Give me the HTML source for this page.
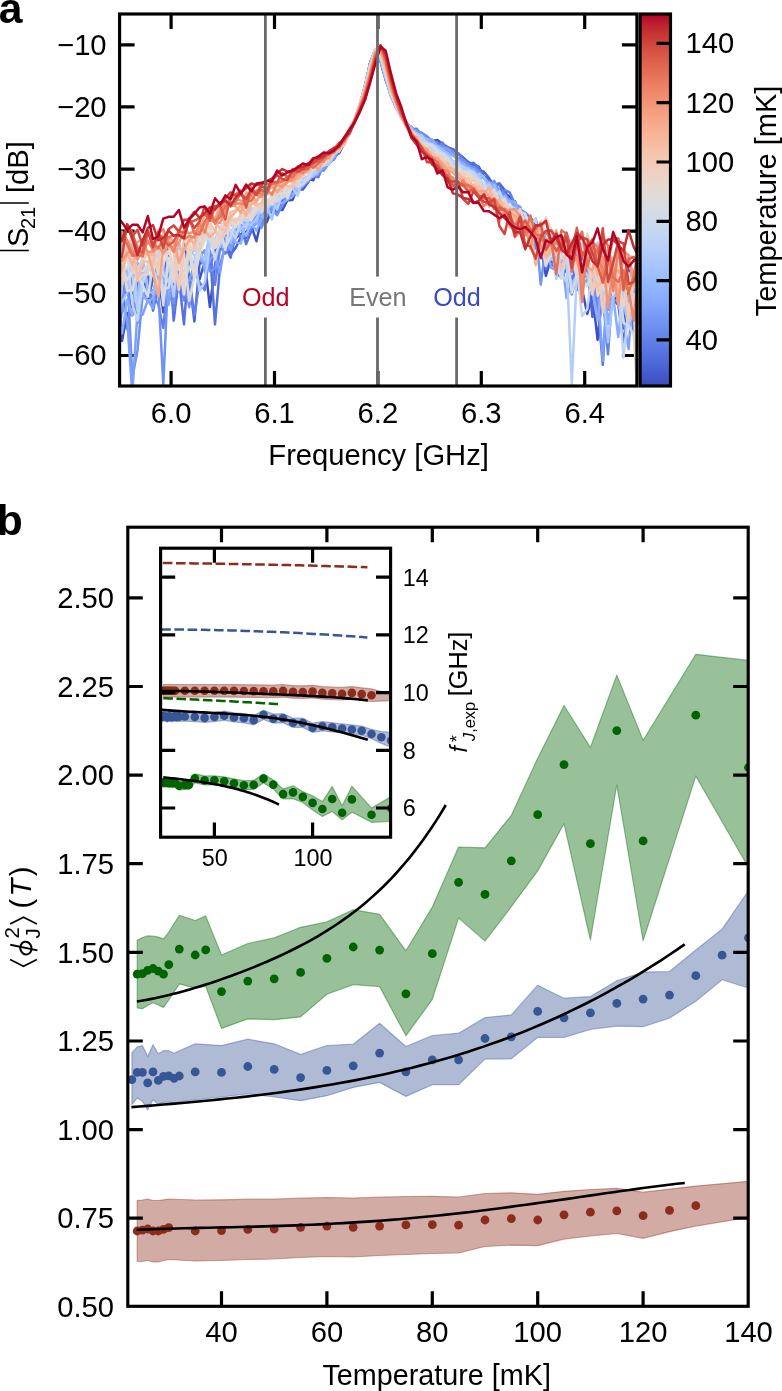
<!DOCTYPE html>
<html><head><meta charset="utf-8"><title>Figure</title>
<style>html,body{margin:0;padding:0;background:#fff;}svg{display:block;will-change:transform;}text{font-family:"Liberation Sans",sans-serif;}</style>
</head><body>
<svg width="782" height="1391" viewBox="0 0 782 1391">
<rect width="782" height="1391" fill="#fff"/>
<defs>
<clipPath id="ca"><rect x="119.6" y="14.0" width="517.3" height="372.0"/></clipPath>
<linearGradient id="cw" x1="0" y1="0" x2="0" y2="1"><stop offset="0.0000" stop-color="#b40426"/><stop offset="0.0312" stop-color="#be242e"/><stop offset="0.0625" stop-color="#ca3b37"/><stop offset="0.0938" stop-color="#d44e41"/><stop offset="0.1250" stop-color="#dd5f4b"/><stop offset="0.1562" stop-color="#e46e56"/><stop offset="0.1875" stop-color="#eb7d62"/><stop offset="0.2188" stop-color="#f08b6e"/><stop offset="0.2500" stop-color="#f4987a"/><stop offset="0.2812" stop-color="#f6a586"/><stop offset="0.3125" stop-color="#f7b093"/><stop offset="0.3438" stop-color="#f7ba9f"/><stop offset="0.3750" stop-color="#f5c4ac"/><stop offset="0.4062" stop-color="#f1ccb8"/><stop offset="0.4375" stop-color="#ecd3c5"/><stop offset="0.4688" stop-color="#e5d8d1"/><stop offset="0.5000" stop-color="#dddcdc"/><stop offset="0.5312" stop-color="#d5dbe5"/><stop offset="0.5625" stop-color="#ccd9ed"/><stop offset="0.5938" stop-color="#c3d5f4"/><stop offset="0.6250" stop-color="#b9d0f9"/><stop offset="0.6562" stop-color="#aec9fc"/><stop offset="0.6875" stop-color="#a3c2fe"/><stop offset="0.7188" stop-color="#98b9ff"/><stop offset="0.7500" stop-color="#8db0fe"/><stop offset="0.7812" stop-color="#82a6fb"/><stop offset="0.8125" stop-color="#779af7"/><stop offset="0.8438" stop-color="#6c8ff1"/><stop offset="0.8750" stop-color="#6282ea"/><stop offset="0.9062" stop-color="#5875e1"/><stop offset="0.9375" stop-color="#4e68d8"/><stop offset="0.9688" stop-color="#445acc"/><stop offset="1.0000" stop-color="#3b4cc0"/></linearGradient>
</defs>
<path d="M171.1,386.0v-15M171.1,14.0v15M274.5,386.0v-15M274.5,14.0v15M377.9,386.0v-15M377.9,14.0v15M481.3,386.0v-15M481.3,14.0v15M584.7,386.0v-15M584.7,14.0v15M119.6,44.8h15M636.9,44.8h-15M119.6,106.9h15M636.9,106.9h-15M119.6,169.1h15M636.9,169.1h-15M119.6,231.2h15M636.9,231.2h-15M119.6,293.4h15M636.9,293.4h-15M119.6,355.5h15M636.9,355.5h-15" stroke="#000" stroke-width="3.2" fill="none"/>
<g clip-path="url(#ca)" fill="none" stroke-width="2.5" stroke-linejoin="round">
<polyline points="116.8,285.8 122.0,341.1 127.2,313.2 132.3,315.2 137.5,294.7 142.7,271.5 147.8,300.5 153.0,277.0 158.2,272.7 163.3,312.3 168.5,247.3 173.7,313.0 178.9,280.3 184.0,242.7 189.2,280.2 194.4,275.0 199.5,279.4 204.7,262.0 209.9,307.0 215.0,265.3 220.2,235.3 225.4,243.6 230.6,248.5 235.7,238.2 240.9,234.1 246.1,232.0 251.2,225.5 256.4,241.2 261.6,218.2 266.7,222.3 271.9,209.1 277.1,208.9 282.3,210.1 287.4,200.2 292.6,199.9 297.8,186.7 302.9,185.7 308.1,178.6 313.3,180.3 318.4,167.5 323.6,168.3 328.8,159.5 334.0,155.6 339.1,153.1 344.3,142.2 349.5,133.7 354.6,120.7 359.8,104.5 365.0,86.7 370.1,62.9 375.3,50.7 380.5,61.2 385.7,79.0 390.8,94.5 396.0,107.3 401.2,115.6 406.3,122.6 411.5,129.6 416.7,132.4 421.8,133.3 427.0,138.3 432.2,140.9 437.4,140.1 442.5,143.9 447.7,147.4 452.9,149.4 458.0,153.5 463.2,157.7 468.4,162.1 473.5,164.8 478.7,166.6 483.9,176.4 489.1,180.0 494.2,185.1 499.4,194.8 504.6,193.7 509.7,196.3 514.9,210.7 520.1,207.2 525.2,223.6 530.4,217.8 535.6,223.9 540.8,246.5 545.9,276.0 551.1,257.9 556.3,273.8 561.4,277.0 566.6,269.1 571.8,252.3 576.9,280.4 582.1,289.2 587.3,314.0 592.5,294.7 597.6,339.9 602.8,290.1 608.0,323.6 613.1,297.1 618.3,299.9 623.5,328.5 628.6,269.2 633.8,306.2 639.0,311.6" stroke="#3d50c3"/>
<polyline points="116.8,364.3 122.0,305.8 127.2,269.3 132.3,307.5 137.5,288.1 142.7,262.0 147.8,301.7 153.0,278.3 158.2,263.0 163.3,282.4 168.5,302.9 173.7,281.5 178.9,271.5 184.0,249.6 189.2,277.2 194.4,321.5 199.5,264.2 204.7,259.8 209.9,267.7 215.0,249.8 220.2,249.0 225.4,234.3 230.6,254.9 235.7,247.7 240.9,237.1 246.1,237.9 251.2,219.7 256.4,221.0 261.6,221.7 266.7,208.1 271.9,210.1 277.1,203.2 282.3,200.0 287.4,199.8 292.6,195.1 297.8,189.6 302.9,189.6 308.1,182.2 313.3,173.7 318.4,170.7 323.6,169.7 328.8,157.1 334.0,159.5 339.1,149.5 344.3,141.5 349.5,131.0 354.6,121.9 359.8,105.5 365.0,87.1 370.1,62.8 375.3,50.1 380.5,61.0 385.7,78.8 390.8,93.9 396.0,106.3 401.2,115.4 406.3,124.4 411.5,127.0 416.7,133.0 421.8,133.0 427.0,136.7 432.2,140.8 437.4,144.0 442.5,145.1 447.7,147.3 452.9,151.2 458.0,154.1 463.2,157.9 468.4,162.8 473.5,166.8 478.7,170.1 483.9,171.7 489.1,178.0 494.2,186.9 499.4,183.6 504.6,189.9 509.7,201.7 514.9,201.2 520.1,216.0 525.2,223.9 530.4,231.5 535.6,218.7 540.8,239.3 545.9,243.4 551.1,248.2 556.3,259.8 561.4,253.7 566.6,255.3 571.8,243.5 576.9,290.1 582.1,254.9 587.3,266.2 592.5,317.0 597.6,273.1 602.8,265.2 608.0,276.7 613.1,299.5 618.3,305.2 623.5,343.6 628.6,303.4 633.8,311.2 639.0,324.8" stroke="#4961d2"/>
<polyline points="116.8,341.7 122.0,281.3 127.2,329.1 132.3,278.2 137.5,322.9 142.7,277.9 147.8,273.5 153.0,310.7 158.2,285.5 163.3,282.1 168.5,246.7 173.7,320.7 178.9,278.0 184.0,324.4 189.2,256.5 194.4,268.9 199.5,261.5 204.7,256.9 209.9,250.5 215.0,324.4 220.2,264.6 225.4,246.1 230.6,257.8 235.7,234.1 240.9,225.2 246.1,244.1 251.2,231.5 256.4,219.6 261.6,208.9 266.7,209.9 271.9,207.4 277.1,212.6 282.3,202.9 287.4,197.8 292.6,196.6 297.8,187.9 302.9,185.8 308.1,181.7 313.3,169.5 318.4,171.3 323.6,162.0 328.8,163.1 334.0,157.1 339.1,153.0 344.3,143.4 349.5,130.3 354.6,120.7 359.8,107.0 365.0,86.0 370.1,63.5 375.3,50.3 380.5,61.0 385.7,80.0 390.8,94.1 396.0,105.8 401.2,116.8 406.3,123.1 411.5,128.5 416.7,132.6 421.8,135.2 427.0,139.8 432.2,140.7 437.4,143.8 442.5,142.6 447.7,151.3 452.9,148.9 458.0,153.1 463.2,158.0 468.4,164.1 473.5,162.8 478.7,168.0 483.9,176.6 489.1,181.7 494.2,184.6 499.4,183.6 504.6,200.2 509.7,201.0 514.9,201.4 520.1,222.4 525.2,220.2 530.4,218.9 535.6,236.8 540.8,243.2 545.9,269.0 551.1,248.1 556.3,273.8 561.4,268.1 566.6,258.7 571.8,282.3 576.9,261.1 582.1,253.4 587.3,276.8 592.5,269.8 597.6,303.8 602.8,364.8 608.0,279.6 613.1,284.7 618.3,300.6 623.5,296.9 628.6,281.8 633.8,333.7 639.0,318.0" stroke="#5572df"/>
<polyline points="116.8,271.0 122.0,281.6 127.2,277.8 132.3,252.5 137.5,318.2 142.7,295.2 147.8,297.0 153.0,296.4 158.2,303.9 163.3,328.1 168.5,275.2 173.7,310.7 178.9,272.1 184.0,300.4 189.2,278.4 194.4,315.2 199.5,281.9 204.7,290.1 209.9,251.2 215.0,284.9 220.2,247.0 225.4,253.5 230.6,244.5 235.7,226.4 240.9,237.5 246.1,235.8 251.2,227.3 256.4,217.8 261.6,222.8 266.7,205.7 271.9,210.0 277.1,208.4 282.3,205.9 287.4,197.9 292.6,191.1 297.8,184.9 302.9,183.8 308.1,182.1 313.3,175.5 318.4,177.2 323.6,163.7 328.8,160.0 334.0,157.1 339.1,149.0 344.3,143.9 349.5,129.9 354.6,120.6 359.8,105.4 365.0,85.4 370.1,63.6 375.3,49.8 380.5,60.9 385.7,79.0 390.8,95.2 396.0,107.2 401.2,114.8 406.3,122.1 411.5,128.9 416.7,128.7 421.8,135.1 427.0,138.1 432.2,139.8 437.4,145.0 442.5,143.9 447.7,150.7 452.9,154.4 458.0,152.9 463.2,161.0 468.4,163.8 473.5,171.1 478.7,173.6 483.9,176.4 489.1,190.0 494.2,186.1 499.4,194.2 504.6,190.1 509.7,192.3 514.9,204.0 520.1,209.7 525.2,212.5 530.4,217.6 535.6,248.3 540.8,250.9 545.9,250.5 551.1,266.8 556.3,258.0 561.4,258.6 566.6,251.8 571.8,259.3 576.9,252.6 582.1,277.2 587.3,273.4 592.5,290.4 597.6,297.3 602.8,296.0 608.0,354.3 613.1,283.5 618.3,270.9 623.5,314.6 628.6,306.5 633.8,308.7 639.0,313.9" stroke="#6282ea"/>
<polyline points="116.8,280.1 122.0,311.4 127.2,269.4 132.3,377.6 137.5,350.4 142.7,295.0 147.8,289.5 153.0,290.5 158.2,289.0 163.3,384.2 168.5,269.3 173.7,303.2 178.9,269.1 184.0,276.5 189.2,307.2 194.4,265.1 199.5,256.7 204.7,250.4 209.9,271.3 215.0,268.8 220.2,237.0 225.4,243.7 230.6,244.6 235.7,228.1 240.9,226.0 246.1,227.0 251.2,227.7 256.4,213.4 261.6,227.7 266.7,215.7 271.9,209.1 277.1,215.2 282.3,205.1 287.4,194.2 292.6,193.9 297.8,193.3 302.9,179.0 308.1,179.7 313.3,175.4 318.4,166.2 323.6,170.7 328.8,163.5 334.0,159.1 339.1,148.1 344.3,143.8 349.5,129.3 354.6,120.1 359.8,105.0 365.0,86.2 370.1,63.5 375.3,50.2 380.5,60.7 385.7,78.7 390.8,95.9 396.0,107.0 401.2,117.6 406.3,124.5 411.5,129.3 416.7,130.9 421.8,133.0 427.0,136.4 432.2,142.2 437.4,146.1 442.5,146.0 447.7,148.3 452.9,151.7 458.0,158.2 463.2,159.9 468.4,165.6 473.5,166.7 478.7,171.2 483.9,177.6 489.1,184.1 494.2,180.9 499.4,191.5 504.6,193.8 509.7,200.2 514.9,204.3 520.1,206.8 525.2,222.7 530.4,230.8 535.6,228.1 540.8,284.6 545.9,243.7 551.1,256.7 556.3,244.5 561.4,251.7 566.6,266.5 571.8,294.6 576.9,274.7 582.1,279.8 587.3,273.4 592.5,279.6 597.6,317.1 602.8,270.6 608.0,309.7 613.1,281.3 618.3,299.3 623.5,276.9 628.6,307.2 633.8,272.6 639.0,330.8" stroke="#6f92f3"/>
<polyline points="116.8,296.6 122.0,303.9 127.2,319.9 132.3,394.5 137.5,311.0 142.7,314.6 147.8,300.2 153.0,308.4 158.2,260.1 163.3,263.7 168.5,304.9 173.7,272.0 178.9,274.9 184.0,280.0 189.2,280.5 194.4,264.8 199.5,242.6 204.7,271.9 209.9,259.4 215.0,254.9 220.2,272.3 225.4,239.7 230.6,250.2 235.7,234.1 240.9,229.6 246.1,215.2 251.2,227.4 256.4,224.0 261.6,213.4 266.7,202.5 271.9,207.8 277.1,203.0 282.3,198.2 287.4,194.5 292.6,193.8 297.8,191.1 302.9,185.7 308.1,180.6 313.3,173.9 318.4,172.9 323.6,168.1 328.8,161.6 334.0,156.8 339.1,150.0 344.3,144.1 349.5,129.6 354.6,120.5 359.8,105.3 365.0,87.2 370.1,63.5 375.3,49.4 380.5,60.0 385.7,78.4 390.8,95.2 396.0,105.1 401.2,116.3 406.3,124.8 411.5,129.2 416.7,131.9 421.8,136.6 427.0,139.4 432.2,142.5 437.4,146.1 442.5,148.0 447.7,149.0 452.9,154.1 458.0,159.1 463.2,164.2 468.4,166.3 473.5,172.4 478.7,177.9 483.9,177.6 489.1,182.7 494.2,184.8 499.4,191.8 504.6,200.8 509.7,199.6 514.9,207.4 520.1,207.4 525.2,229.1 530.4,229.9 535.6,234.0 540.8,228.2 545.9,240.0 551.1,267.8 556.3,270.3 561.4,253.2 566.6,298.1 571.8,282.6 576.9,276.1 582.1,288.4 587.3,279.3 592.5,273.4 597.6,286.0 602.8,361.3 608.0,270.7 613.1,279.5 618.3,302.0 623.5,319.7 628.6,349.1 633.8,278.3 639.0,312.4" stroke="#7da0f9"/>
<polyline points="116.8,314.9 122.0,333.3 127.2,299.6 132.3,315.5 137.5,262.4 142.7,295.1 147.8,301.4 153.0,298.5 158.2,276.0 163.3,280.8 168.5,261.5 173.7,266.8 178.9,252.9 184.0,295.3 189.2,254.4 194.4,265.1 199.5,256.9 204.7,266.0 209.9,245.4 215.0,239.9 220.2,240.6 225.4,248.0 230.6,230.0 235.7,242.4 240.9,243.5 246.1,218.9 251.2,223.4 256.4,230.6 261.6,219.1 266.7,211.2 271.9,202.4 277.1,203.0 282.3,203.0 287.4,199.6 292.6,196.3 297.8,186.8 302.9,185.1 308.1,176.2 313.3,175.9 318.4,166.7 323.6,165.9 328.8,160.9 334.0,156.1 339.1,149.9 344.3,139.1 349.5,132.7 354.6,120.5 359.8,105.1 365.0,86.3 370.1,64.2 375.3,49.1 380.5,59.8 385.7,78.1 390.8,94.6 396.0,106.6 401.2,117.7 406.3,123.3 411.5,127.3 416.7,133.8 421.8,136.2 427.0,139.3 432.2,139.4 437.4,146.2 442.5,148.9 447.7,153.3 452.9,155.4 458.0,159.9 463.2,164.0 468.4,167.8 473.5,169.1 478.7,176.9 483.9,177.4 489.1,185.0 494.2,184.8 499.4,199.2 504.6,204.5 509.7,201.2 514.9,201.8 520.1,217.9 525.2,231.4 530.4,219.0 535.6,230.3 540.8,248.3 545.9,232.4 551.1,234.1 556.3,262.5 561.4,262.7 566.6,253.7 571.8,255.0 576.9,252.0 582.1,267.7 587.3,248.6 592.5,292.2 597.6,320.9 602.8,282.4 608.0,323.7 613.1,296.0 618.3,337.1 623.5,286.9 628.6,279.0 633.8,271.6 639.0,301.8" stroke="#8badfd"/>
<polyline points="116.8,347.1 122.0,284.8 127.2,269.9 132.3,300.7 137.5,299.0 142.7,257.9 147.8,291.3 153.0,293.3 158.2,268.2 163.3,276.0 168.5,268.7 173.7,268.0 178.9,242.5 184.0,264.9 189.2,254.2 194.4,276.3 199.5,253.6 204.7,260.9 209.9,235.1 215.0,242.4 220.2,230.8 225.4,237.4 230.6,243.0 235.7,224.9 240.9,227.4 246.1,235.6 251.2,222.5 256.4,222.2 261.6,205.3 266.7,209.9 271.9,202.5 277.1,199.4 282.3,192.3 287.4,191.7 292.6,187.3 297.8,184.0 302.9,185.7 308.1,177.1 313.3,176.6 318.4,172.1 323.6,164.5 328.8,164.6 334.0,156.0 339.1,147.8 344.3,141.6 349.5,130.7 354.6,121.1 359.8,105.0 365.0,88.4 370.1,64.7 375.3,49.7 380.5,58.4 385.7,76.5 390.8,95.8 396.0,107.2 401.2,117.7 406.3,123.0 411.5,129.1 416.7,135.0 421.8,137.1 427.0,139.7 432.2,145.8 437.4,146.1 442.5,150.3 447.7,153.1 452.9,161.4 458.0,161.4 463.2,171.0 468.4,168.0 473.5,175.5 478.7,173.6 483.9,177.1 489.1,192.5 494.2,184.9 499.4,197.5 504.6,196.2 509.7,205.1 514.9,212.6 520.1,217.3 525.2,225.9 530.4,218.4 535.6,233.4 540.8,250.8 545.9,238.0 551.1,250.4 556.3,248.7 561.4,270.9 566.6,258.4 571.8,285.7 576.9,274.1 582.1,268.8 587.3,264.3 592.5,274.8 597.6,289.1 602.8,248.4 608.0,295.8 613.1,297.1 618.3,285.4 623.5,308.7 628.6,297.0 633.8,282.8 639.0,288.9" stroke="#9abbff"/>
<polyline points="116.8,307.7 122.0,302.0 127.2,292.5 132.3,243.4 137.5,303.1 142.7,274.4 147.8,266.2 153.0,271.1 158.2,295.2 163.3,240.4 168.5,269.8 173.7,279.1 178.9,275.9 184.0,261.9 189.2,256.4 194.4,249.2 199.5,253.1 204.7,259.6 209.9,232.4 215.0,244.3 220.2,246.7 225.4,230.3 230.6,222.0 235.7,233.4 240.9,228.9 246.1,224.1 251.2,225.0 256.4,218.6 261.6,208.2 266.7,205.1 271.9,219.5 277.1,194.4 282.3,191.0 287.4,197.6 292.6,183.6 297.8,189.7 302.9,176.3 308.1,178.5 313.3,171.3 318.4,167.9 323.6,163.0 328.8,163.2 334.0,152.2 339.1,147.8 344.3,140.9 349.5,129.7 354.6,119.8 359.8,103.3 365.0,86.2 370.1,63.9 375.3,49.6 380.5,58.2 385.7,77.6 390.8,93.9 396.0,107.1 401.2,117.6 406.3,123.7 411.5,130.5 416.7,133.3 421.8,140.4 427.0,143.4 432.2,145.0 437.4,153.2 442.5,154.6 447.7,156.0 452.9,163.8 458.0,161.8 463.2,169.2 468.4,168.4 473.5,176.9 478.7,174.3 483.9,189.5 489.1,183.0 494.2,198.4 499.4,191.0 504.6,202.1 509.7,218.7 514.9,207.8 520.1,221.1 525.2,224.7 530.4,230.0 535.6,228.7 540.8,244.3 545.9,240.0 551.1,259.5 556.3,260.6 561.4,252.1 566.6,246.1 571.8,264.4 576.9,269.1 582.1,267.4 587.3,263.1 592.5,293.8 597.6,242.6 602.8,288.4 608.0,342.4 613.1,297.8 618.3,285.7 623.5,302.1 628.6,325.3 633.8,310.0 639.0,287.5" stroke="#a7c5fe"/>
<polyline points="116.8,332.2 122.0,286.2 127.2,240.5 132.3,274.6 137.5,310.6 142.7,283.9 147.8,270.5 153.0,259.8 158.2,265.7 163.3,248.6 168.5,260.4 173.7,296.4 178.9,251.4 184.0,277.2 189.2,247.1 194.4,255.9 199.5,291.0 204.7,282.2 209.9,245.2 215.0,239.4 220.2,228.2 225.4,229.5 230.6,219.6 235.7,221.7 240.9,220.8 246.1,228.4 251.2,208.7 256.4,207.6 261.6,205.1 266.7,211.2 271.9,197.8 277.1,209.5 282.3,193.3 287.4,191.1 292.6,187.7 297.8,195.7 302.9,173.9 308.1,179.6 313.3,174.6 318.4,169.3 323.6,165.6 328.8,164.5 334.0,153.7 339.1,149.5 344.3,140.8 349.5,133.5 354.6,119.4 359.8,105.1 365.0,86.5 370.1,65.6 375.3,50.0 380.5,57.5 385.7,75.8 390.8,92.9 396.0,105.7 401.2,117.7 406.3,124.8 411.5,132.3 416.7,134.6 421.8,135.3 427.0,144.9 432.2,149.1 437.4,152.8 442.5,154.4 447.7,156.0 452.9,161.4 458.0,169.0 463.2,167.2 468.4,170.2 473.5,171.8 478.7,178.5 483.9,190.3 489.1,185.0 494.2,195.0 499.4,205.0 504.6,203.9 509.7,207.9 514.9,211.5 520.1,225.3 525.2,227.5 530.4,230.1 535.6,233.9 540.8,238.3 545.9,266.1 551.1,240.0 556.3,279.0 561.4,254.8 566.6,263.2 571.8,384.1 576.9,272.2 582.1,267.8 587.3,275.2 592.5,292.7 597.6,275.5 602.8,298.5 608.0,277.6 613.1,272.7 618.3,238.8 623.5,303.9 628.6,306.3 633.8,293.6 639.0,359.9" stroke="#b5cdfa"/>
<polyline points="116.8,283.7 122.0,261.8 127.2,251.3 132.3,303.9 137.5,320.8 142.7,284.0 147.8,262.9 153.0,276.0 158.2,250.0 163.3,274.2 168.5,282.0 173.7,264.1 178.9,284.0 184.0,282.1 189.2,267.1 194.4,266.6 199.5,233.3 204.7,237.3 209.9,241.1 215.0,244.0 220.2,226.8 225.4,222.2 230.6,231.3 235.7,238.0 240.9,219.8 246.1,220.8 251.2,219.1 256.4,212.9 261.6,203.7 266.7,207.2 271.9,202.9 277.1,201.1 282.3,197.9 287.4,194.2 292.6,184.4 297.8,182.2 302.9,180.8 308.1,176.5 313.3,170.4 318.4,165.8 323.6,163.4 328.8,159.0 334.0,153.4 339.1,150.2 344.3,143.4 349.5,128.4 354.6,119.0 359.8,104.0 365.0,88.2 370.1,65.8 375.3,49.0 380.5,56.2 385.7,75.0 390.8,92.5 396.0,105.8 401.2,117.7 406.3,126.5 411.5,133.2 416.7,136.9 421.8,138.5 427.0,144.5 432.2,144.0 437.4,148.9 442.5,153.1 447.7,160.5 452.9,162.3 458.0,163.4 463.2,171.4 468.4,170.3 473.5,173.3 478.7,179.0 483.9,190.1 489.1,187.7 494.2,198.9 499.4,191.6 504.6,206.4 509.7,210.9 514.9,212.6 520.1,222.0 525.2,217.1 530.4,226.3 535.6,218.8 540.8,258.2 545.9,243.2 551.1,242.9 556.3,252.5 561.4,274.5 566.6,281.6 571.8,248.8 576.9,268.4 582.1,316.0 587.3,308.9 592.5,268.4 597.6,274.0 602.8,290.6 608.0,276.3 613.1,282.7 618.3,289.1 623.5,357.7 628.6,309.0 633.8,278.4 639.0,295.8" stroke="#c1d4f4"/>
<polyline points="116.8,287.1 122.0,268.9 127.2,268.6 132.3,253.7 137.5,270.1 142.7,257.9 147.8,253.5 153.0,265.3 158.2,259.6 163.3,289.2 168.5,287.9 173.7,267.5 178.9,269.6 184.0,263.3 189.2,254.6 194.4,273.8 199.5,236.4 204.7,240.7 209.9,232.7 215.0,259.6 220.2,239.3 225.4,247.1 230.6,237.3 235.7,220.8 240.9,218.4 246.1,211.3 251.2,219.0 256.4,206.2 261.6,212.6 266.7,201.2 271.9,196.3 277.1,201.2 282.3,195.2 287.4,187.7 292.6,183.6 297.8,186.5 302.9,184.1 308.1,178.6 313.3,169.5 318.4,165.2 323.6,162.5 328.8,157.4 334.0,152.9 339.1,148.0 344.3,138.6 349.5,133.8 354.6,121.2 359.8,106.5 365.0,87.9 370.1,67.5 375.3,49.0 380.5,55.4 385.7,73.6 390.8,94.0 396.0,105.3 401.2,116.5 406.3,123.6 411.5,131.9 416.7,136.4 421.8,143.4 427.0,143.3 432.2,145.7 437.4,152.0 442.5,161.1 447.7,161.5 452.9,166.6 458.0,166.3 463.2,171.7 468.4,172.7 473.5,176.9 478.7,180.9 483.9,181.9 489.1,194.5 494.2,189.7 499.4,201.3 504.6,209.6 509.7,204.0 514.9,210.5 520.1,211.7 525.2,213.6 530.4,231.4 535.6,226.8 540.8,252.3 545.9,241.9 551.1,251.3 556.3,263.3 561.4,278.8 566.6,252.0 571.8,292.7 576.9,275.1 582.1,243.8 587.3,247.3 592.5,255.1 597.6,288.6 602.8,255.4 608.0,291.1 613.1,277.7 618.3,274.4 623.5,322.8 628.6,325.6 633.8,334.6 639.0,416.4" stroke="#cdd9ec"/>
<polyline points="116.8,278.7 122.0,267.0 127.2,280.0 132.3,271.8 137.5,275.0 142.7,284.7 147.8,296.7 153.0,265.6 158.2,259.0 163.3,305.4 168.5,258.0 173.7,277.5 178.9,252.0 184.0,253.8 189.2,301.0 194.4,277.3 199.5,246.7 204.7,240.2 209.9,238.1 215.0,244.7 220.2,229.5 225.4,250.0 230.6,218.1 235.7,219.3 240.9,222.6 246.1,210.9 251.2,220.4 256.4,206.9 261.6,203.1 266.7,203.2 271.9,196.8 277.1,197.6 282.3,184.7 287.4,198.3 292.6,185.3 297.8,179.7 302.9,174.5 308.1,168.9 313.3,170.1 318.4,168.0 323.6,162.1 328.8,159.6 334.0,153.7 339.1,149.2 344.3,143.4 349.5,129.3 354.6,120.9 359.8,105.0 365.0,87.9 370.1,67.5 375.3,49.4 380.5,55.4 385.7,73.6 390.8,92.0 396.0,104.4 401.2,117.2 406.3,126.5 411.5,131.3 416.7,136.1 421.8,143.7 427.0,144.0 432.2,146.3 437.4,151.9 442.5,155.2 447.7,158.1 452.9,167.0 458.0,167.0 463.2,174.2 468.4,175.0 473.5,179.2 478.7,184.7 483.9,192.4 489.1,195.7 494.2,204.2 499.4,205.6 504.6,209.5 509.7,204.5 514.9,211.5 520.1,216.6 525.2,232.2 530.4,237.3 535.6,237.4 540.8,229.9 545.9,264.6 551.1,255.8 556.3,246.2 561.4,258.7 566.6,245.4 571.8,254.9 576.9,277.9 582.1,280.4 587.3,286.3 592.5,269.2 597.6,262.1 602.8,287.8 608.0,295.1 613.1,267.7 618.3,281.6 623.5,258.2 628.6,280.0 633.8,314.6 639.0,275.4" stroke="#d8dce2"/>
<polyline points="116.8,286.0 122.0,260.4 127.2,290.8 132.3,289.9 137.5,270.1 142.7,271.2 147.8,264.3 153.0,266.8 158.2,287.3 163.3,263.5 168.5,251.1 173.7,264.0 178.9,263.9 184.0,294.3 189.2,242.6 194.4,278.9 199.5,253.6 204.7,240.6 209.9,223.5 215.0,248.0 220.2,226.9 225.4,226.1 230.6,222.1 235.7,227.1 240.9,212.8 246.1,218.1 251.2,214.7 256.4,209.7 261.6,203.0 266.7,205.0 271.9,198.2 277.1,195.5 282.3,192.9 287.4,193.4 292.6,184.3 297.8,179.5 302.9,176.8 308.1,170.5 313.3,170.0 318.4,163.5 323.6,161.5 328.8,157.6 334.0,151.2 339.1,148.2 344.3,141.6 349.5,129.9 354.6,119.4 359.8,106.8 365.0,89.5 370.1,68.2 375.3,49.8 380.5,54.1 385.7,71.9 390.8,91.8 396.0,103.9 401.2,118.5 406.3,124.5 411.5,131.4 416.7,137.6 421.8,144.7 427.0,147.1 432.2,153.6 437.4,152.9 442.5,163.1 447.7,162.8 452.9,169.2 458.0,176.7 463.2,173.8 468.4,172.3 473.5,177.1 478.7,187.0 483.9,188.6 489.1,191.0 494.2,191.3 499.4,201.5 504.6,198.8 509.7,211.9 514.9,213.5 520.1,220.1 525.2,225.4 530.4,225.5 535.6,234.8 540.8,221.0 545.9,265.8 551.1,228.3 556.3,237.7 561.4,247.3 566.6,239.7 571.8,240.1 576.9,269.0 582.1,289.3 587.3,233.4 592.5,255.0 597.6,263.5 602.8,236.6 608.0,274.5 613.1,294.6 618.3,262.4 623.5,279.8 628.6,275.8 633.8,304.5 639.0,283.0" stroke="#e3d9d3"/>
<polyline points="116.8,263.1 122.0,241.3 127.2,260.4 132.3,253.3 137.5,280.5 142.7,274.8 147.8,274.5 153.0,245.2 158.2,274.3 163.3,252.2 168.5,241.1 173.7,281.7 178.9,251.1 184.0,281.3 189.2,244.3 194.4,249.5 199.5,229.9 204.7,235.0 209.9,225.6 215.0,246.9 220.2,238.3 225.4,218.4 230.6,218.7 235.7,218.8 240.9,220.5 246.1,215.5 251.2,215.6 256.4,203.3 261.6,208.6 266.7,200.2 271.9,203.9 277.1,187.7 282.3,189.2 287.4,187.6 292.6,185.1 297.8,184.4 302.9,175.1 308.1,170.5 313.3,164.8 318.4,165.5 323.6,165.0 328.8,159.9 334.0,152.9 339.1,149.5 344.3,143.1 349.5,129.2 354.6,120.8 359.8,106.7 365.0,88.3 370.1,69.7 375.3,50.2 380.5,52.8 385.7,71.0 390.8,91.0 396.0,104.7 401.2,115.8 406.3,126.4 411.5,131.0 416.7,135.7 421.8,147.6 427.0,146.5 432.2,152.1 437.4,155.8 442.5,159.4 447.7,164.8 452.9,167.4 458.0,175.0 463.2,173.2 468.4,175.9 473.5,180.7 478.7,181.9 483.9,192.1 489.1,190.4 494.2,192.4 499.4,205.6 504.6,205.8 509.7,214.3 514.9,220.0 520.1,209.0 525.2,224.7 530.4,234.4 535.6,234.9 540.8,236.7 545.9,217.3 551.1,230.0 556.3,254.4 561.4,246.5 566.6,251.6 571.8,261.8 576.9,261.9 582.1,267.7 587.3,258.1 592.5,252.6 597.6,295.7 602.8,283.5 608.0,283.0 613.1,265.1 618.3,280.5 623.5,306.6 628.6,272.9 633.8,303.6 639.0,454.5" stroke="#ecd3c5"/>
<polyline points="116.8,271.7 122.0,283.9 127.2,241.6 132.3,270.5 137.5,267.5 142.7,261.9 147.8,252.1 153.0,257.2 158.2,267.5 163.3,232.5 168.5,243.4 173.7,252.9 178.9,290.1 184.0,247.9 189.2,250.1 194.4,248.9 199.5,250.4 204.7,226.8 209.9,223.0 215.0,231.0 220.2,237.4 225.4,233.8 230.6,219.9 235.7,222.5 240.9,214.8 246.1,205.0 251.2,202.9 256.4,204.7 261.6,208.5 266.7,194.5 271.9,192.7 277.1,195.1 282.3,186.9 287.4,181.7 292.6,175.1 297.8,177.2 302.9,172.2 308.1,172.1 313.3,166.4 318.4,163.9 323.6,158.6 328.8,159.6 334.0,152.4 339.1,151.4 344.3,141.9 349.5,131.8 354.6,121.0 359.8,106.7 365.0,90.0 370.1,69.8 375.3,50.7 380.5,52.0 385.7,69.6 390.8,89.0 396.0,103.9 401.2,113.1 406.3,124.0 411.5,132.9 416.7,142.3 421.8,144.6 427.0,149.1 432.2,152.1 437.4,156.3 442.5,157.1 447.7,168.8 452.9,170.1 458.0,171.8 463.2,173.5 468.4,184.9 473.5,178.9 478.7,189.5 483.9,193.4 489.1,193.6 494.2,195.2 499.4,201.4 504.6,204.2 509.7,211.8 514.9,211.5 520.1,223.5 525.2,224.5 530.4,226.7 535.6,232.5 540.8,231.4 545.9,249.3 551.1,252.6 556.3,234.4 561.4,248.9 566.6,247.9 571.8,248.4 576.9,244.9 582.1,269.3 587.3,245.2 592.5,294.7 597.6,259.2 602.8,312.7 608.0,277.6 613.1,286.7 618.3,267.6 623.5,273.7 628.6,320.7 633.8,279.9 639.0,300.1" stroke="#f2cab5"/>
<polyline points="116.8,257.4 122.0,248.2 127.2,252.2 132.3,234.1 137.5,280.4 142.7,261.9 147.8,261.3 153.0,264.7 158.2,229.8 163.3,250.4 168.5,244.7 173.7,241.6 178.9,263.9 184.0,241.2 189.2,234.5 194.4,247.3 199.5,220.9 204.7,225.3 209.9,219.2 215.0,221.6 220.2,228.8 225.4,231.1 230.6,212.2 235.7,210.3 240.9,205.7 246.1,216.0 251.2,193.4 256.4,205.5 261.6,202.9 266.7,191.3 271.9,195.4 277.1,184.2 282.3,183.8 287.4,186.2 292.6,187.1 297.8,176.7 302.9,171.9 308.1,173.2 313.3,165.5 318.4,163.6 323.6,161.0 328.8,155.5 334.0,152.0 339.1,145.8 344.3,145.3 349.5,132.8 354.6,119.3 359.8,106.1 365.0,89.6 370.1,70.8 375.3,50.9 380.5,50.9 385.7,68.6 390.8,89.0 396.0,102.5 401.2,115.4 406.3,126.2 411.5,130.8 416.7,140.5 421.8,144.2 427.0,152.0 432.2,153.1 437.4,159.0 442.5,166.2 447.7,162.3 452.9,172.2 458.0,175.4 463.2,177.8 468.4,178.5 473.5,188.3 478.7,186.1 483.9,191.4 489.1,207.0 494.2,200.8 499.4,219.9 504.6,211.4 509.7,223.6 514.9,222.6 520.1,222.6 525.2,230.4 530.4,225.6 535.6,233.2 540.8,225.6 545.9,254.4 551.1,246.7 556.3,251.2 561.4,268.9 566.6,250.8 571.8,244.6 576.9,249.2 582.1,252.2 587.3,258.9 592.5,274.0 597.6,287.1 602.8,280.3 608.0,284.6 613.1,274.8 618.3,270.7 623.5,274.5 628.6,261.9 633.8,272.9 639.0,292.7" stroke="#f6bfa6"/>
<polyline points="116.8,247.4 122.0,270.6 127.2,253.0 132.3,264.8 137.5,245.7 142.7,252.7 147.8,254.2 153.0,254.8 158.2,246.2 163.3,239.5 168.5,242.5 173.7,241.5 178.9,247.3 184.0,250.4 189.2,239.6 194.4,243.1 199.5,226.6 204.7,229.9 209.9,237.2 215.0,232.4 220.2,209.8 225.4,225.6 230.6,217.1 235.7,211.8 240.9,205.0 246.1,215.3 251.2,204.8 256.4,202.2 261.6,189.7 266.7,193.5 271.9,184.8 277.1,191.0 282.3,188.3 287.4,181.7 292.6,179.8 297.8,178.8 302.9,174.1 308.1,170.0 313.3,163.5 318.4,162.4 323.6,160.0 328.8,158.1 334.0,151.6 339.1,147.4 344.3,141.2 349.5,131.5 354.6,119.6 359.8,105.7 365.0,91.8 370.1,72.3 375.3,51.6 380.5,50.3 385.7,66.6 390.8,88.0 396.0,102.0 401.2,115.2 406.3,127.1 411.5,132.2 416.7,142.9 421.8,149.2 427.0,149.7 432.2,157.5 437.4,157.4 442.5,165.9 447.7,167.6 452.9,168.6 458.0,173.3 463.2,178.5 468.4,184.8 473.5,184.7 478.7,192.7 483.9,194.5 489.1,186.8 494.2,205.5 499.4,199.0 504.6,210.6 509.7,227.5 514.9,214.9 520.1,232.7 525.2,227.3 530.4,221.1 535.6,265.4 540.8,233.7 545.9,257.7 551.1,249.5 556.3,247.7 561.4,246.8 566.6,255.3 571.8,246.6 576.9,261.7 582.1,274.0 587.3,238.1 592.5,249.9 597.6,275.1 602.8,247.3 608.0,253.5 613.1,258.7 618.3,292.8 623.5,284.6 628.6,255.7 633.8,257.7 639.0,262.7" stroke="#f7b396"/>
<polyline points="116.8,242.3 122.0,245.3 127.2,241.1 132.3,247.8 137.5,242.0 142.7,239.6 147.8,253.0 153.0,271.2 158.2,296.3 163.3,246.8 168.5,238.3 173.7,240.5 178.9,262.7 184.0,249.4 189.2,240.2 194.4,236.4 199.5,230.6 204.7,214.7 209.9,209.5 215.0,219.8 220.2,204.0 225.4,202.7 230.6,204.4 235.7,206.5 240.9,212.9 246.1,192.4 251.2,194.7 256.4,201.3 261.6,193.2 266.7,191.9 271.9,186.7 277.1,192.0 282.3,185.4 287.4,180.8 292.6,181.6 297.8,175.1 302.9,172.1 308.1,170.1 313.3,163.7 318.4,170.1 323.6,159.7 328.8,157.5 334.0,147.1 339.1,146.1 344.3,141.7 349.5,130.2 354.6,120.2 359.8,106.6 365.0,92.2 370.1,72.8 375.3,52.8 380.5,49.0 385.7,65.0 390.8,86.3 396.0,102.7 401.2,114.9 406.3,123.9 411.5,135.6 416.7,136.8 421.8,148.9 427.0,148.5 432.2,157.7 437.4,158.2 442.5,162.9 447.7,170.5 452.9,172.6 458.0,177.5 463.2,181.7 468.4,185.2 473.5,187.9 478.7,191.4 483.9,190.9 489.1,195.8 494.2,203.4 499.4,221.7 504.6,208.3 509.7,212.3 514.9,215.7 520.1,222.2 525.2,230.9 530.4,235.2 535.6,232.1 540.8,228.8 545.9,244.2 551.1,241.5 556.3,230.3 561.4,251.3 566.6,236.4 571.8,252.3 576.9,252.2 582.1,251.6 587.3,267.5 592.5,270.4 597.6,248.0 602.8,262.7 608.0,250.0 613.1,270.5 618.3,270.6 623.5,279.1 628.6,257.2 633.8,285.6 639.0,285.2" stroke="#f6a586"/>
<polyline points="116.8,240.8 122.0,261.0 127.2,253.3 132.3,249.7 137.5,259.8 142.7,247.9 147.8,251.8 153.0,251.8 158.2,246.7 163.3,253.0 168.5,245.1 173.7,247.1 178.9,243.6 184.0,230.0 189.2,233.4 194.4,231.3 199.5,232.3 204.7,222.7 209.9,220.3 215.0,222.1 220.2,222.9 225.4,210.6 230.6,194.8 235.7,199.2 240.9,200.6 246.1,202.9 251.2,186.6 256.4,194.9 261.6,197.0 266.7,190.3 271.9,183.2 277.1,185.2 282.3,186.4 287.4,182.4 292.6,178.4 297.8,171.7 302.9,172.1 308.1,167.6 313.3,163.9 318.4,157.8 323.6,159.4 328.8,157.8 334.0,148.8 339.1,148.6 344.3,139.1 349.5,132.4 354.6,120.5 359.8,110.4 365.0,92.7 370.1,74.3 375.3,53.6 380.5,47.9 385.7,63.1 390.8,84.9 396.0,101.4 401.2,113.7 406.3,124.8 411.5,134.4 416.7,141.4 421.8,148.1 427.0,154.6 432.2,161.2 437.4,161.5 442.5,166.7 447.7,178.3 452.9,177.3 458.0,182.9 463.2,186.3 468.4,187.3 473.5,189.6 478.7,197.3 483.9,196.3 489.1,201.8 494.2,204.0 499.4,206.8 504.6,213.1 509.7,209.8 514.9,209.3 520.1,216.9 525.2,224.7 530.4,248.6 535.6,225.5 540.8,248.6 545.9,240.2 551.1,238.1 556.3,243.7 561.4,237.1 566.6,248.8 571.8,263.7 576.9,257.0 582.1,284.7 587.3,247.8 592.5,256.5 597.6,253.8 602.8,257.2 608.0,307.6 613.1,265.9 618.3,306.0 623.5,251.5 628.6,255.0 633.8,281.3 639.0,249.8" stroke="#f39475"/>
<polyline points="116.8,252.3 122.0,231.6 127.2,240.4 132.3,255.0 137.5,248.2 142.7,255.4 147.8,240.7 153.0,250.1 158.2,233.5 163.3,229.1 168.5,242.8 173.7,251.8 178.9,233.1 184.0,239.2 189.2,236.0 194.4,237.5 199.5,223.7 204.7,232.6 209.9,214.6 215.0,223.8 220.2,211.6 225.4,201.8 230.6,206.6 235.7,203.6 240.9,203.6 246.1,204.3 251.2,194.8 256.4,190.5 261.6,194.7 266.7,189.0 271.9,194.5 277.1,182.5 282.3,181.4 287.4,178.8 292.6,173.9 297.8,170.2 302.9,173.3 308.1,166.6 313.3,164.4 318.4,160.9 323.6,161.8 328.8,152.2 334.0,152.8 339.1,145.6 344.3,139.6 349.5,129.8 354.6,121.2 359.8,107.3 365.0,94.2 370.1,75.6 375.3,55.1 380.5,47.1 385.7,62.3 390.8,83.5 396.0,101.6 401.2,115.9 406.3,125.4 411.5,136.4 416.7,141.8 421.8,149.8 427.0,154.7 432.2,159.8 437.4,163.9 442.5,169.7 447.7,171.1 452.9,180.8 458.0,188.3 463.2,180.4 468.4,192.7 473.5,190.1 478.7,195.7 483.9,206.1 489.1,202.3 494.2,198.3 499.4,205.4 504.6,210.7 509.7,217.3 514.9,237.2 520.1,231.0 525.2,235.3 530.4,229.6 535.6,237.6 540.8,239.1 545.9,244.3 551.1,245.6 556.3,241.8 561.4,248.7 566.6,250.8 571.8,260.5 576.9,230.2 582.1,302.1 587.3,244.0 592.5,241.6 597.6,247.5 602.8,275.9 608.0,256.3 613.1,291.0 618.3,248.6 623.5,285.5 628.6,290.3 633.8,321.0 639.0,261.6" stroke="#ed8366"/>
<polyline points="116.8,233.7 122.0,238.0 127.2,244.5 132.3,255.7 137.5,254.9 142.7,256.4 147.8,231.9 153.0,243.7 158.2,248.2 163.3,240.9 168.5,237.3 173.7,235.5 178.9,234.9 184.0,238.4 189.2,217.9 194.4,233.8 199.5,234.6 204.7,221.6 209.9,213.8 215.0,221.1 220.2,217.3 225.4,206.1 230.6,202.6 235.7,201.9 240.9,192.8 246.1,200.4 251.2,201.1 256.4,192.6 261.6,184.1 266.7,183.9 271.9,183.5 277.1,182.9 282.3,181.2 287.4,177.0 292.6,177.3 297.8,170.4 302.9,168.1 308.1,163.1 313.3,167.8 318.4,163.7 323.6,156.0 328.8,154.6 334.0,151.2 339.1,146.3 344.3,140.9 349.5,131.0 354.6,121.8 359.8,109.9 365.0,94.6 370.1,77.5 375.3,55.8 380.5,45.8 385.7,59.7 390.8,81.6 396.0,99.5 401.2,112.1 406.3,122.4 411.5,134.0 416.7,143.8 421.8,147.5 427.0,154.0 432.2,157.3 437.4,162.3 442.5,173.6 447.7,179.2 452.9,185.2 458.0,181.9 463.2,184.2 468.4,185.3 473.5,188.7 478.7,195.6 483.9,198.4 489.1,198.0 494.2,203.2 499.4,210.4 504.6,209.3 509.7,216.1 514.9,225.8 520.1,217.0 525.2,232.4 530.4,215.5 535.6,235.2 540.8,234.8 545.9,231.5 551.1,240.6 556.3,274.0 561.4,230.2 566.6,233.9 571.8,271.8 576.9,242.2 582.1,231.5 587.3,266.6 592.5,246.0 597.6,252.4 602.8,236.2 608.0,245.7 613.1,277.3 618.3,281.9 623.5,270.4 628.6,292.8 633.8,275.8 639.0,244.6" stroke="#e57058"/>
<polyline points="116.8,220.0 122.0,241.6 127.2,224.4 132.3,232.4 137.5,249.1 142.7,252.7 147.8,231.0 153.0,245.3 158.2,233.7 163.3,238.7 168.5,245.5 173.7,241.6 178.9,231.0 184.0,233.0 189.2,222.3 194.4,220.7 199.5,218.1 204.7,213.6 209.9,220.7 215.0,206.6 220.2,206.1 225.4,219.6 230.6,195.8 235.7,194.6 240.9,190.5 246.1,207.7 251.2,187.9 256.4,194.4 261.6,189.6 266.7,193.5 271.9,181.5 277.1,182.3 282.3,173.2 287.4,177.1 292.6,172.6 297.8,166.4 302.9,169.3 308.1,168.9 313.3,161.3 318.4,161.7 323.6,158.2 328.8,152.9 334.0,149.3 339.1,142.9 344.3,140.2 349.5,131.9 354.6,120.4 359.8,109.9 365.0,96.2 370.1,78.5 375.3,57.9 380.5,45.8 385.7,57.9 390.8,80.9 396.0,96.5 401.2,113.2 406.3,123.2 411.5,134.0 416.7,140.6 421.8,150.3 427.0,153.9 432.2,160.9 437.4,170.2 442.5,170.9 447.7,175.7 452.9,186.5 458.0,183.4 463.2,185.2 468.4,191.4 473.5,188.5 478.7,195.7 483.9,197.9 489.1,198.3 494.2,209.0 499.4,207.6 504.6,210.0 509.7,216.8 514.9,230.0 520.1,227.0 525.2,220.5 530.4,229.9 535.6,228.7 540.8,223.4 545.9,250.1 551.1,241.2 556.3,251.0 561.4,243.8 566.6,232.6 571.8,251.8 576.9,227.7 582.1,256.5 587.3,245.6 592.5,239.4 597.6,266.0 602.8,282.6 608.0,262.0 613.1,238.1 618.3,238.4 623.5,290.0 628.6,259.2 633.8,256.8 639.0,272.0" stroke="#dc5d4a"/>
<polyline points="116.8,257.9 122.0,256.5 127.2,223.9 132.3,236.3 137.5,229.7 142.7,245.5 147.8,230.9 153.0,247.1 158.2,232.1 163.3,248.0 168.5,229.2 173.7,225.4 178.9,231.6 184.0,219.7 189.2,219.5 194.4,228.0 199.5,221.7 204.7,206.6 209.9,218.0 215.0,206.0 220.2,205.5 225.4,198.4 230.6,192.3 235.7,195.8 240.9,194.7 246.1,198.8 251.2,190.0 256.4,194.9 261.6,185.6 266.7,190.0 271.9,179.9 277.1,175.2 282.3,179.1 287.4,180.2 292.6,169.3 297.8,172.0 302.9,169.0 308.1,165.0 313.3,163.3 318.4,158.9 323.6,153.0 328.8,153.9 334.0,149.2 339.1,145.4 344.3,138.9 349.5,133.3 354.6,122.5 359.8,109.7 365.0,96.4 370.1,80.0 375.3,59.8 380.5,45.3 385.7,55.7 390.8,78.4 396.0,95.4 401.2,109.9 406.3,124.4 411.5,135.5 416.7,140.8 421.8,147.2 427.0,162.2 432.2,162.0 437.4,165.9 442.5,172.8 447.7,181.3 452.9,181.5 458.0,181.2 463.2,199.1 468.4,203.8 473.5,191.1 478.7,197.6 483.9,201.8 489.1,202.8 494.2,199.3 499.4,226.0 504.6,234.0 509.7,211.9 514.9,236.3 520.1,216.5 525.2,245.1 530.4,246.2 535.6,258.8 540.8,236.9 545.9,230.7 551.1,230.4 556.3,238.7 561.4,248.6 566.6,237.4 571.8,267.8 576.9,241.0 582.1,237.3 587.3,239.5 592.5,253.2 597.6,266.7 602.8,228.3 608.0,281.9 613.1,262.9 618.3,241.4 623.5,243.5 628.6,284.0 633.8,282.0 639.0,268.7" stroke="#d0473d"/>
<polyline points="116.8,237.6 122.0,240.4 127.2,225.3 132.3,238.7 137.5,255.3 142.7,240.2 147.8,227.9 153.0,225.2 158.2,240.3 163.3,238.1 168.5,230.6 173.7,235.6 178.9,235.1 184.0,238.3 189.2,219.1 194.4,211.8 199.5,217.8 204.7,213.3 209.9,207.3 215.0,209.7 220.2,202.5 225.4,200.5 230.6,205.5 235.7,197.6 240.9,192.7 246.1,188.1 251.2,183.5 256.4,185.2 261.6,183.5 266.7,181.3 271.9,178.6 277.1,173.4 282.3,169.0 287.4,171.7 292.6,170.8 297.8,168.3 302.9,166.6 308.1,164.5 313.3,157.9 318.4,158.5 323.6,156.4 328.8,151.1 334.0,148.2 339.1,146.8 344.3,138.0 349.5,132.4 354.6,122.5 359.8,111.9 365.0,99.2 370.1,81.2 375.3,62.2 380.5,45.8 385.7,53.5 390.8,75.7 396.0,95.5 401.2,109.9 406.3,123.6 411.5,138.0 416.7,144.7 421.8,151.5 427.0,155.7 432.2,164.5 437.4,168.9 442.5,175.2 447.7,178.6 452.9,193.4 458.0,194.6 463.2,198.1 468.4,199.1 473.5,202.9 478.7,200.8 483.9,194.2 489.1,204.5 494.2,206.8 499.4,213.0 504.6,218.1 509.7,223.1 514.9,232.6 520.1,232.1 525.2,249.2 530.4,236.7 535.6,225.3 540.8,225.4 545.9,220.8 551.1,241.6 556.3,233.6 561.4,249.7 566.6,253.9 571.8,243.4 576.9,233.2 582.1,238.2 587.3,248.3 592.5,261.2 597.6,266.5 602.8,245.2 608.0,239.5 613.1,239.6 618.3,244.9 623.5,251.3 628.6,230.3 633.8,247.1 639.0,257.4" stroke="#c32e31"/>
<polyline points="116.8,216.1 122.0,222.5 127.2,229.5 132.3,224.8 137.5,224.8 142.7,232.4 147.8,216.0 153.0,239.1 158.2,236.4 163.3,218.7 168.5,216.8 173.7,216.7 178.9,210.1 184.0,227.7 189.2,219.3 194.4,213.8 199.5,207.5 204.7,206.6 209.9,213.6 215.0,198.3 220.2,204.5 225.4,195.4 230.6,199.2 235.7,184.9 240.9,193.8 246.1,184.5 251.2,191.3 256.4,183.6 261.6,182.8 266.7,180.8 271.9,181.4 277.1,170.6 282.3,175.5 287.4,172.5 292.6,170.4 297.8,167.3 302.9,163.5 308.1,165.1 313.3,158.9 318.4,156.4 323.6,152.6 328.8,153.3 334.0,150.7 339.1,145.0 344.3,137.2 349.5,129.5 354.6,122.2 359.8,111.5 365.0,99.8 370.1,82.8 375.3,63.6 380.5,46.6 385.7,50.7 390.8,72.9 396.0,92.9 401.2,106.8 406.3,122.9 411.5,136.3 416.7,141.7 421.8,159.2 427.0,157.0 432.2,159.9 437.4,173.5 442.5,170.4 447.7,187.3 452.9,189.8 458.0,186.6 463.2,192.3 468.4,192.1 473.5,202.8 478.7,202.8 483.9,211.0 489.1,211.3 494.2,214.6 499.4,218.2 504.6,215.1 509.7,224.0 514.9,227.3 520.1,229.3 525.2,227.0 530.4,232.1 535.6,238.7 540.8,258.0 545.9,240.4 551.1,242.9 556.3,237.0 561.4,235.2 566.6,254.6 571.8,259.1 576.9,236.6 582.1,272.4 587.3,246.7 592.5,242.2 597.6,228.4 602.8,248.9 608.0,260.6 613.1,232.0 618.3,244.9 623.5,261.2 628.6,266.6 633.8,260.5 639.0,258.0" stroke="#b40426"/>
</g>
<line x1="265.4" y1="14.0" x2="265.4" y2="386.0" stroke="#6a6a6a" stroke-width="2.8"/>
<line x1="377.5" y1="14.0" x2="377.5" y2="386.0" stroke="#6a6a6a" stroke-width="2.8"/>
<line x1="456.6" y1="14.0" x2="456.6" y2="386.0" stroke="#6a6a6a" stroke-width="2.8"/>
<path d="M377.9,386.0v-15M377.9,14.0v15" stroke="#6a6a6a" stroke-width="3.2" fill="none"/>
<rect x="257.8" y="276.6" width="16" height="40.9" fill="#fff"/>
<rect x="369.9" y="276.6" width="16" height="40.9" fill="#fff"/>
<rect x="449.0" y="276.6" width="16" height="40.9" fill="#fff"/>
<rect x="119.6" y="14.0" width="517.3" height="372.0" fill="none" stroke="#000" stroke-width="3.15"/>
<rect x="640.1" y="14.0" width="30.399999999999977" height="372.0" fill="url(#cw)" stroke="#000" stroke-width="3.15"/>
<path d="M670.5,339.9h-14M670.5,280.6h-14M670.5,221.3h-14M670.5,162.0h-14M670.5,102.7h-14M670.5,43.4h-14" stroke="#000" stroke-width="3.2" fill="none"/>
<clipPath id="cb"><rect x="127.8" y="527.2" width="620.4000000000001" height="779.0999999999999"/></clipPath>
<g clip-path="url(#cb)">
<polygon points="137.2,1200.3 142.4,1200.0 147.7,1199.2 153.0,1200.5 158.3,1200.5 163.5,1199.8 168.8,1199.0 195.2,1200.0 221.5,1199.8 247.8,1199.2 274.2,1199.0 300.6,1198.2 326.9,1197.5 353.2,1198.0 379.6,1197.2 405.9,1196.5 432.3,1196.3 458.6,1197.0 485.0,1193.5 511.3,1192.8 537.7,1194.3 564.0,1191.3 590.4,1189.5 616.8,1188.3 643.1,1192.2 669.5,1189.1 695.8,1186.1 748.5,1181.3 748.5,1217.4 695.8,1226.1 669.5,1231.7 643.1,1238.3 616.8,1233.5 590.4,1236.0 564.0,1239.1 537.7,1245.7 511.3,1245.2 485.0,1246.5 458.6,1253.0 432.3,1253.5 405.9,1254.5 379.6,1255.5 353.2,1257.0 326.9,1256.5 300.6,1257.5 274.2,1259.0 247.8,1259.5 221.5,1260.5 195.2,1261.0 168.8,1259.5 163.5,1260.5 158.3,1262.0 153.0,1262.0 147.7,1260.5 142.4,1261.5 137.2,1261.3" fill="#8c2c1c" fill-opacity="0.4" stroke="#8c2c1c" stroke-opacity="0.4" stroke-width="1.2" stroke-linejoin="round"/>
<polygon points="131.9,1052.7 137.2,1046.9 142.4,1045.6 147.7,1056.6 153.0,1044.8 158.3,1053.8 163.5,1050.7 168.8,1050.7 174.1,1053.2 179.3,1050.7 195.2,1043.8 221.5,1045.6 247.8,1039.2 274.2,1043.8 300.6,1054.4 326.9,1045.5 353.2,1044.2 379.6,1023.2 405.9,1046.5 432.3,1035.5 458.6,1033.2 485.0,1017.6 511.3,1014.9 537.7,985.2 564.0,998.2 590.4,996.6 616.8,980.7 643.1,972.1 669.5,971.5 695.8,950.0 722.1,929.1 748.5,890.7 748.5,988.0 722.1,979.8 695.8,1001.2 669.5,1018.1 643.1,1026.7 616.8,1026.1 590.4,1029.5 564.0,1037.5 537.7,1037.4 511.3,1058.8 485.0,1059.1 458.6,1084.7 432.3,1084.7 405.9,1096.4 379.6,1082.4 353.2,1087.4 326.9,1095.7 300.6,1100.7 274.2,1097.0 247.8,1093.8 221.5,1097.0 195.2,1100.0 179.3,1101.8 174.1,1103.5 168.8,1102.0 163.5,1102.4 158.3,1104.4 153.0,1099.8 147.7,1110.0 142.4,1101.3 137.2,1098.0 131.9,1104.4" fill="#375696" fill-opacity="0.4" stroke="#375696" stroke-opacity="0.4" stroke-width="1.2" stroke-linejoin="round"/>
<polygon points="137.2,940.2 142.4,937.5 147.7,935.8 153.0,936.2 158.3,937.1 163.5,938.9 168.8,932.0 179.3,915.3 195.2,920.5 205.7,915.9 221.5,955.0 247.8,943.5 274.2,937.9 300.6,927.3 326.9,921.9 353.2,909.7 379.6,914.3 405.9,950.8 432.3,907.1 458.6,847.0 485.0,847.8 511.3,815.4 537.7,758.2 564.0,705.5 590.4,747.4 616.8,675.1 643.1,740.3 695.8,654.3 748.5,660.4 748.5,867.5 695.8,776.1 643.1,940.8 616.8,785.0 590.4,940.0 564.0,823.7 537.7,870.9 511.3,906.7 485.0,941.1 458.6,918.1 432.3,999.4 405.9,1035.8 379.6,986.6 353.2,984.6 326.9,994.3 300.6,1016.9 274.2,1019.7 247.8,1018.9 221.5,1028.4 205.7,986.4 195.2,988.2 179.3,983.9 168.8,1000.0 163.5,1007.4 158.3,1005.0 153.0,1002.8 147.7,1005.5 142.4,1008.7 137.2,1007.9" fill="#006400" fill-opacity="0.4" stroke="#006400" stroke-opacity="0.4" stroke-width="1.2" stroke-linejoin="round"/>
<g fill="#8c2c1c"><circle cx="137.2" cy="1231.0" r="4.4"/><circle cx="142.4" cy="1230.2" r="4.4"/><circle cx="147.7" cy="1229.0" r="4.4"/><circle cx="153.0" cy="1231.0" r="4.4"/><circle cx="158.3" cy="1231.0" r="4.4"/><circle cx="163.5" cy="1229.4" r="4.4"/><circle cx="168.8" cy="1227.7" r="4.4"/><circle cx="195.2" cy="1231.0" r="4.4"/><circle cx="221.5" cy="1230.6" r="4.4"/><circle cx="247.8" cy="1229.4" r="4.4"/><circle cx="274.2" cy="1229.0" r="4.4"/><circle cx="300.6" cy="1227.3" r="4.4"/><circle cx="326.9" cy="1226.1" r="4.4"/><circle cx="353.2" cy="1227.3" r="4.4"/><circle cx="379.6" cy="1226.1" r="4.4"/><circle cx="405.9" cy="1224.9" r="4.4"/><circle cx="432.3" cy="1224.6" r="4.4"/><circle cx="458.6" cy="1225.2" r="4.4"/><circle cx="485.0" cy="1220.0" r="4.4"/><circle cx="511.3" cy="1218.7" r="4.4"/><circle cx="537.7" cy="1220.0" r="4.4"/><circle cx="564.0" cy="1214.8" r="4.4"/><circle cx="590.4" cy="1212.2" r="4.4"/><circle cx="616.8" cy="1210.9" r="4.4"/><circle cx="643.1" cy="1215.7" r="4.4"/><circle cx="669.5" cy="1210.4" r="4.4"/><circle cx="695.8" cy="1205.7" r="4.4"/></g>
<g fill="#375696"><circle cx="131.9" cy="1079.6" r="4.4"/><circle cx="137.2" cy="1072.4" r="4.4"/><circle cx="142.4" cy="1072.4" r="4.4"/><circle cx="147.7" cy="1082.9" r="4.4"/><circle cx="153.0" cy="1071.9" r="4.4"/><circle cx="158.3" cy="1080.4" r="4.4"/><circle cx="163.5" cy="1076.3" r="4.4"/><circle cx="168.8" cy="1075.8" r="4.4"/><circle cx="174.1" cy="1078.3" r="4.4"/><circle cx="179.3" cy="1076.0" r="4.4"/><circle cx="195.2" cy="1071.9" r="4.4"/><circle cx="221.5" cy="1072.4" r="4.4"/><circle cx="247.8" cy="1066.5" r="4.4"/><circle cx="274.2" cy="1069.4" r="4.4"/><circle cx="300.6" cy="1077.6" r="4.4"/><circle cx="326.9" cy="1070.4" r="4.4"/><circle cx="353.2" cy="1065.8" r="4.4"/><circle cx="379.6" cy="1053.1" r="4.4"/><circle cx="405.9" cy="1071.8" r="4.4"/><circle cx="432.3" cy="1059.8" r="4.4"/><circle cx="458.6" cy="1059.8" r="4.4"/><circle cx="485.0" cy="1038.5" r="4.4"/><circle cx="511.3" cy="1036.8" r="4.4"/><circle cx="537.7" cy="1011.3" r="4.4"/><circle cx="564.0" cy="1017.8" r="4.4"/><circle cx="590.4" cy="1012.9" r="4.4"/><circle cx="616.8" cy="1003.4" r="4.4"/><circle cx="643.1" cy="999.1" r="4.4"/><circle cx="669.5" cy="995.1" r="4.4"/><circle cx="695.8" cy="975.7" r="4.4"/><circle cx="722.1" cy="955.2" r="4.4"/><circle cx="748.5" cy="937.8" r="4.4"/></g>
<g fill="#006400"><circle cx="137.2" cy="974.2" r="4.4"/><circle cx="142.4" cy="973.7" r="4.4"/><circle cx="147.7" cy="970.3" r="4.4"/><circle cx="153.0" cy="968.5" r="4.4"/><circle cx="158.3" cy="971.1" r="4.4"/><circle cx="163.5" cy="974.2" r="4.4"/><circle cx="168.8" cy="964.7" r="4.4"/><circle cx="179.3" cy="949.1" r="4.4"/><circle cx="195.2" cy="955.0" r="4.4"/><circle cx="205.7" cy="949.9" r="4.4"/><circle cx="221.5" cy="991.6" r="4.4"/><circle cx="247.8" cy="981.1" r="4.4"/><circle cx="274.2" cy="978.8" r="4.4"/><circle cx="300.6" cy="972.4" r="4.4"/><circle cx="326.9" cy="958.3" r="4.4"/><circle cx="353.2" cy="947.0" r="4.4"/><circle cx="379.6" cy="950.1" r="4.4"/><circle cx="405.9" cy="993.8" r="4.4"/><circle cx="432.3" cy="953.7" r="4.4"/><circle cx="458.6" cy="882.3" r="4.4"/><circle cx="485.0" cy="894.3" r="4.4"/><circle cx="511.3" cy="860.9" r="4.4"/><circle cx="537.7" cy="814.7" r="4.4"/><circle cx="564.0" cy="764.6" r="4.4"/><circle cx="590.4" cy="843.7" r="4.4"/><circle cx="616.8" cy="730.6" r="4.4"/><circle cx="643.1" cy="840.9" r="4.4"/><circle cx="695.8" cy="715.2" r="4.4"/><circle cx="748.5" cy="767.5" r="4.4"/></g>
</g>
<polyline points="136.90,1001.41 141.38,1000.71 145.85,999.95 150.33,999.12 154.81,998.22 159.28,997.27 163.76,996.26 168.24,995.20 172.71,994.09 177.19,992.93 181.67,991.73 186.14,990.48 190.62,989.19 195.10,987.86 199.58,986.50 204.05,985.09 208.53,983.65 213.01,982.18 217.48,980.67 221.96,979.13 226.44,977.55 230.91,975.94 235.39,974.30 239.87,972.62 244.34,970.90 248.82,969.15 253.30,967.36 257.77,965.53 262.25,963.66 266.73,961.75 271.20,959.80 275.68,957.80 280.16,955.75 284.63,953.66 289.11,951.50 293.59,949.29 298.07,947.02 302.54,944.69 307.02,942.29 311.50,939.82 315.97,937.28 320.45,934.65 324.93,931.94 329.40,929.15 333.88,926.26 338.36,923.27 342.83,920.17 347.31,916.97 351.79,913.66 356.26,910.22 360.74,906.65 365.22,902.96 369.69,899.12 374.17,895.13 378.65,890.99 383.12,886.69 387.60,882.22 392.08,877.58 396.56,872.75 401.03,867.73 405.51,862.50 409.99,857.07 414.46,851.42 418.94,845.55 423.42,839.43 427.89,833.08 432.37,826.46 436.85,819.59 441.32,812.44 445.80,805.00" fill="none" stroke="#000" stroke-width="2.6"/>
<polyline points="131.40,1107.17 139.42,1106.54 147.44,1105.89 155.46,1105.23 163.48,1104.57 171.49,1103.88 179.51,1103.19 187.53,1102.48 195.55,1101.74 203.57,1100.99 211.59,1100.21 219.61,1099.41 227.63,1098.58 235.64,1097.73 243.66,1096.84 251.68,1095.92 259.70,1094.96 267.72,1093.97 275.74,1092.94 283.76,1091.87 291.78,1090.76 299.80,1089.60 307.81,1088.40 315.83,1087.15 323.85,1085.84 331.87,1084.49 339.89,1083.08 347.91,1081.62 355.93,1080.10 363.95,1078.52 371.97,1076.88 379.98,1075.18 388.00,1073.40 396.02,1071.57 404.04,1069.66 412.06,1067.68 420.08,1065.63 428.10,1063.50 436.12,1061.30 444.13,1059.02 452.15,1056.66 460.17,1054.21 468.19,1051.68 476.21,1049.06 484.23,1046.36 492.25,1043.56 500.27,1040.67 508.29,1037.69 516.30,1034.61 524.32,1031.44 532.34,1028.16 540.36,1024.78 548.38,1021.30 556.40,1017.71 564.42,1014.01 572.44,1010.20 580.46,1006.29 588.47,1002.25 596.49,998.11 604.51,993.84 612.53,989.46 620.55,984.95 628.57,980.32 636.59,975.57 644.61,970.69 652.62,965.68 660.64,960.54 668.66,955.27 676.68,949.86 684.70,944.31" fill="none" stroke="#000" stroke-width="2.6"/>
<polyline points="136.80,1229.80 144.74,1229.49 152.68,1229.20 160.63,1228.95 168.57,1228.71 176.51,1228.49 184.45,1228.29 192.39,1228.10 200.34,1227.92 208.28,1227.74 216.22,1227.56 224.16,1227.39 232.10,1227.21 240.05,1227.02 247.99,1226.83 255.93,1226.62 263.87,1226.41 271.81,1226.17 279.76,1225.92 287.70,1225.66 295.64,1225.37 303.58,1225.06 311.52,1224.73 319.47,1224.37 327.41,1223.98 335.35,1223.57 343.29,1223.13 351.23,1222.67 359.18,1222.17 367.12,1221.64 375.06,1221.08 383.00,1220.49 390.94,1219.87 398.89,1219.21 406.83,1218.52 414.77,1217.81 422.71,1217.06 430.66,1216.27 438.60,1215.46 446.54,1214.62 454.48,1213.75 462.42,1212.85 470.37,1211.92 478.31,1210.96 486.25,1209.98 494.19,1208.98 502.13,1207.95 510.08,1206.90 518.02,1205.83 525.96,1204.74 533.90,1203.63 541.84,1202.51 549.79,1201.38 557.73,1200.24 565.67,1199.09 573.61,1197.94 581.55,1196.79 589.50,1195.63 597.44,1194.48 605.38,1193.33 613.32,1192.19 621.26,1191.07 629.21,1189.96 637.15,1188.87 645.09,1187.80 653.03,1186.76 660.97,1185.75 668.92,1184.77 676.86,1183.83 684.80,1182.94" fill="none" stroke="#000" stroke-width="2.6"/>
<path d="M221.5,1306.3v-15M221.5,527.2v15M326.9,1306.3v-15M326.9,527.2v15M432.3,1306.3v-15M432.3,527.2v15M537.7,1306.3v-15M537.7,527.2v15M643.1,1306.3v-15M643.1,527.2v15M127.8,1218.2h15M748.2,1218.2h-15M127.8,1129.6h15M748.2,1129.6h-15M127.8,1041.0h15M748.2,1041.0h-15M127.8,952.3h15M748.2,952.3h-15M127.8,863.7h15M748.2,863.7h-15M127.8,775.1h15M748.2,775.1h-15M127.8,686.5h15M748.2,686.5h-15M127.8,597.9h15M748.2,597.9h-15" stroke="#000" stroke-width="3.2" fill="none"/>
<rect x="127.8" y="527.2" width="620.4000000000001" height="779.0999999999999" fill="none" stroke="#000" stroke-width="3.15"/>
<rect x="160.6" y="548.2" width="230.00000000000003" height="289.0" fill="#fff"/>
<clipPath id="ci"><rect x="160.6" y="548.2" width="230.00000000000003" height="289.0"/></clipPath>
<g clip-path="url(#ci)">
<polygon points="163.3,684.5 165.3,684.5 167.3,684.5 169.2,684.5 171.2,684.5 173.2,684.5 175.1,684.5 184.9,684.5 194.8,684.5 204.6,684.5 214.4,684.5 224.2,684.5 234.0,684.6 243.9,684.7 253.7,684.8 263.5,684.9 273.3,685.0 283.1,684.5 293.0,685.6 302.8,685.8 312.6,685.3 322.4,686.6 332.2,687.0 342.1,687.4 351.9,686.6 361.7,687.8 371.5,688.9 391.2,694.1 391.2,700.7 371.5,701.5 361.7,700.4 351.9,699.2 342.1,700.0 332.2,699.6 322.4,699.2 312.6,697.9 302.8,698.4 293.0,698.2 283.1,697.1 273.3,697.6 263.5,697.5 253.7,697.4 243.9,697.3 234.0,697.2 224.2,697.1 214.4,697.1 204.6,697.1 194.8,697.1 184.9,697.1 175.1,697.1 173.2,697.1 171.2,697.1 169.2,697.1 167.3,697.1 165.3,697.1 163.3,697.1" fill="#8c2c1c" fill-opacity="0.4" stroke="#8c2c1c" stroke-opacity="0.4" stroke-width="1.2" stroke-linejoin="round"/>
<polygon points="161.4,712.4 163.3,711.7 165.3,711.9 167.3,712.9 169.2,711.6 171.2,712.6 173.2,712.2 175.1,712.0 177.1,712.4 179.0,712.1 184.9,711.9 194.8,712.4 204.6,713.3 214.4,712.4 224.2,711.1 234.0,712.8 243.9,713.6 253.7,715.6 263.5,710.3 273.3,714.0 283.1,713.6 293.0,718.2 302.8,718.2 312.6,723.2 322.4,721.6 332.2,722.7 342.1,723.9 351.9,724.9 361.7,726.1 371.5,729.4 381.3,731.5 391.2,732.3 391.2,747.3 381.3,743.5 371.5,738.6 361.7,735.3 351.9,734.1 342.1,733.1 332.2,731.9 322.4,730.8 312.6,732.4 302.8,727.4 293.0,727.4 283.1,722.8 273.3,723.2 263.5,719.5 253.7,724.8 243.9,722.8 234.0,722.0 224.2,720.3 214.4,721.6 204.6,722.5 194.8,721.6 184.9,721.1 179.0,721.3 177.1,721.6 175.1,721.2 173.2,721.4 171.2,721.8 169.2,720.8 167.3,722.1 165.3,721.1 163.3,720.9 161.4,721.6" fill="#375696" fill-opacity="0.4" stroke="#375696" stroke-opacity="0.4" stroke-width="1.2" stroke-linejoin="round"/>
<polygon points="163.3,778.1 165.3,777.9 167.3,778.3 169.2,778.5 171.2,778.1 173.2,778.7 175.1,778.0 179.0,781.2 184.9,780.4 188.9,780.4 194.8,773.8 204.6,775.9 214.4,775.8 224.2,776.8 234.0,778.8 243.9,780.7 253.7,780.4 263.5,774.1 273.3,780.1 283.1,789.1 293.0,785.7 302.8,791.6 312.6,795.7 322.4,801.5 332.2,786.6 342.1,805.7 351.9,786.2 371.5,807.9 391.2,796.6 391.2,821.5 371.5,822.3 351.9,812.3 342.1,819.8 332.2,811.5 322.4,816.5 312.6,809.9 302.8,802.4 293.0,798.7 283.1,799.0 273.3,789.1 263.5,783.1 253.7,789.4 243.9,789.7 234.0,787.8 224.2,785.8 214.4,784.8 204.6,784.9 194.8,782.8 188.9,789.4 184.9,789.4 179.0,790.2 175.1,787.0 173.2,787.7 171.2,787.1 169.2,787.5 167.3,787.3 165.3,786.9 163.3,787.1" fill="#006400" fill-opacity="0.4" stroke="#006400" stroke-opacity="0.4" stroke-width="1.2" stroke-linejoin="round"/>
<g fill="#8c2c1c"><circle cx="163.3" cy="690.8" r="4.3"/><circle cx="165.3" cy="690.8" r="4.3"/><circle cx="167.3" cy="690.8" r="4.3"/><circle cx="169.2" cy="690.8" r="4.3"/><circle cx="171.2" cy="690.8" r="4.3"/><circle cx="173.2" cy="690.8" r="4.3"/><circle cx="175.1" cy="690.8" r="4.3"/><circle cx="184.9" cy="690.8" r="4.3"/><circle cx="194.8" cy="690.8" r="4.3"/><circle cx="204.6" cy="690.8" r="4.3"/><circle cx="214.4" cy="690.8" r="4.3"/><circle cx="224.2" cy="690.8" r="4.3"/><circle cx="234.0" cy="690.9" r="4.3"/><circle cx="243.9" cy="691.0" r="4.3"/><circle cx="253.7" cy="691.1" r="4.3"/><circle cx="263.5" cy="691.2" r="4.3"/><circle cx="273.3" cy="691.3" r="4.3"/><circle cx="283.1" cy="690.8" r="4.3"/><circle cx="293.0" cy="691.9" r="4.3"/><circle cx="302.8" cy="692.1" r="4.3"/><circle cx="312.6" cy="691.6" r="4.3"/><circle cx="322.4" cy="692.9" r="4.3"/><circle cx="332.2" cy="693.3" r="4.3"/><circle cx="342.1" cy="693.7" r="4.3"/><circle cx="351.9" cy="692.9" r="4.3"/><circle cx="361.7" cy="694.1" r="4.3"/><circle cx="371.5" cy="695.2" r="4.3"/></g>
<g fill="#375696"><circle cx="161.4" cy="717.0" r="4.3"/><circle cx="163.3" cy="716.3" r="4.3"/><circle cx="165.3" cy="716.5" r="4.3"/><circle cx="167.3" cy="717.5" r="4.3"/><circle cx="169.2" cy="716.2" r="4.3"/><circle cx="171.2" cy="717.2" r="4.3"/><circle cx="173.2" cy="716.8" r="4.3"/><circle cx="175.1" cy="716.6" r="4.3"/><circle cx="177.1" cy="717.0" r="4.3"/><circle cx="179.0" cy="716.7" r="4.3"/><circle cx="184.9" cy="716.5" r="4.3"/><circle cx="194.8" cy="717.0" r="4.3"/><circle cx="204.6" cy="717.9" r="4.3"/><circle cx="214.4" cy="717.0" r="4.3"/><circle cx="224.2" cy="715.7" r="4.3"/><circle cx="234.0" cy="717.4" r="4.3"/><circle cx="243.9" cy="718.2" r="4.3"/><circle cx="253.7" cy="720.2" r="4.3"/><circle cx="263.5" cy="714.9" r="4.3"/><circle cx="273.3" cy="718.6" r="4.3"/><circle cx="283.1" cy="718.2" r="4.3"/><circle cx="293.0" cy="722.8" r="4.3"/><circle cx="302.8" cy="722.8" r="4.3"/><circle cx="312.6" cy="727.8" r="4.3"/><circle cx="322.4" cy="726.2" r="4.3"/><circle cx="332.2" cy="727.3" r="4.3"/><circle cx="342.1" cy="728.5" r="4.3"/><circle cx="351.9" cy="729.5" r="4.3"/><circle cx="361.7" cy="730.7" r="4.3"/><circle cx="371.5" cy="734.0" r="4.3"/><circle cx="381.3" cy="737.3" r="4.3"/><circle cx="391.2" cy="740.6" r="4.3"/></g>
<g fill="#006400"><circle cx="163.3" cy="782.6" r="4.3"/><circle cx="165.3" cy="782.4" r="4.3"/><circle cx="167.3" cy="782.8" r="4.3"/><circle cx="169.2" cy="783.0" r="4.3"/><circle cx="171.2" cy="782.6" r="4.3"/><circle cx="173.2" cy="783.2" r="4.3"/><circle cx="175.1" cy="782.5" r="4.3"/><circle cx="179.0" cy="785.7" r="4.3"/><circle cx="184.9" cy="784.9" r="4.3"/><circle cx="188.9" cy="784.9" r="4.3"/><circle cx="194.8" cy="778.3" r="4.3"/><circle cx="204.6" cy="780.4" r="4.3"/><circle cx="214.4" cy="780.3" r="4.3"/><circle cx="224.2" cy="781.3" r="4.3"/><circle cx="234.0" cy="783.3" r="4.3"/><circle cx="243.9" cy="785.2" r="4.3"/><circle cx="253.7" cy="784.9" r="4.3"/><circle cx="263.5" cy="778.6" r="4.3"/><circle cx="273.3" cy="784.6" r="4.3"/><circle cx="283.1" cy="794.1" r="4.3"/><circle cx="293.0" cy="792.4" r="4.3"/><circle cx="302.8" cy="796.9" r="4.3"/><circle cx="312.6" cy="802.9" r="4.3"/><circle cx="322.4" cy="809.0" r="4.3"/><circle cx="332.2" cy="799.0" r="4.3"/><circle cx="342.1" cy="812.8" r="4.3"/><circle cx="351.9" cy="799.4" r="4.3"/><circle cx="371.5" cy="814.8" r="4.3"/><circle cx="391.2" cy="808.2" r="4.3"/></g>
<polyline points="162.80,563.00 168.05,563.06 173.29,563.12 178.54,563.18 183.78,563.25 189.03,563.32 194.28,563.39 199.52,563.46 204.77,563.54 210.02,563.62 215.26,563.70 220.51,563.78 225.75,563.87 231.00,563.96 236.25,564.05 241.49,564.14 246.74,564.24 251.98,564.34 257.23,564.44 262.48,564.55 267.72,564.66 272.97,564.77 278.22,564.88 283.46,565.00 288.71,565.11 293.95,565.23 299.20,565.36 304.45,565.48 309.69,565.61 314.94,565.74 320.18,565.88 325.43,566.01 330.68,566.15 335.92,566.29 341.17,566.44 346.42,566.59 351.66,566.74 356.91,566.89 362.15,567.04 367.40,567.20" fill="none" stroke="#8c2c1c" stroke-width="2.5" stroke-dasharray="9.6 3.6"/>
<polyline points="161.20,629.50 166.49,629.51 171.77,629.53 177.06,629.56 182.35,629.60 187.64,629.65 192.92,629.71 198.21,629.78 203.50,629.86 208.78,629.95 214.07,630.06 219.36,630.17 224.65,630.29 229.93,630.42 235.22,630.57 240.51,630.72 245.79,630.88 251.08,631.06 256.37,631.24 261.66,631.44 266.94,631.64 272.23,631.86 277.52,632.08 282.81,632.32 288.09,632.57 293.38,632.82 298.67,633.09 303.95,633.37 309.24,633.65 314.53,633.95 319.82,634.26 325.10,634.58 330.39,634.91 335.68,635.25 340.96,635.60 346.25,635.96 351.54,636.33 356.83,636.71 362.11,637.10 367.40,637.50" fill="none" stroke="#375696" stroke-width="2.5" stroke-dasharray="9.6 3.6"/>
<polyline points="163.30,698.20 166.24,698.32 169.18,698.44 172.12,698.56 175.06,698.69 178.01,698.81 180.95,698.94 183.89,699.07 186.83,699.20 189.77,699.34 192.71,699.47 195.65,699.61 198.59,699.75 201.53,699.89 204.47,700.03 207.42,700.17 210.36,700.31 213.30,700.46 216.24,700.61 219.18,700.76 222.12,700.91 225.06,701.06 228.00,701.22 230.94,701.37 233.88,701.53 236.83,701.69 239.77,701.85 242.71,702.01 245.65,702.18 248.59,702.35 251.53,702.51 254.47,702.68 257.41,702.85 260.35,703.03 263.29,703.20 266.24,703.38 269.18,703.56 272.12,703.74 275.06,703.92 278.00,704.10" fill="none" stroke="#006400" stroke-width="2.5" stroke-dasharray="9.6 3.6"/>
</g>
<polyline points="161.70,691.00 165.19,690.99 168.69,690.99 172.18,691.01 175.67,691.03 179.17,691.07 182.66,691.11 186.15,691.16 189.65,691.22 193.14,691.29 196.63,691.37 200.13,691.45 203.62,691.55 207.11,691.64 210.61,691.75 214.10,691.86 217.59,691.97 221.08,692.10 224.58,692.22 228.07,692.35 231.56,692.48 235.06,692.62 238.55,692.76 242.04,692.91 245.54,693.05 249.03,693.20 252.52,693.35 256.02,693.50 259.51,693.65 263.00,693.80 266.50,693.95 269.99,694.10 273.48,694.25 276.98,694.40 280.47,694.55 283.96,694.70 287.46,694.85 290.95,695.01 294.44,695.16 297.94,695.33 301.43,695.49 304.92,695.66 308.42,695.84 311.91,696.03 315.40,696.22 318.89,696.42 322.39,696.62 325.88,696.84 329.37,697.07 332.87,697.30 336.36,697.55 339.85,697.81 343.35,698.08 346.84,698.37 350.33,698.67 353.83,698.98 357.32,699.31 360.81,699.66 364.31,700.02 367.80,700.40" fill="none" stroke="#000" stroke-width="2.6" />
<polyline points="161.70,709.90 165.19,710.17 168.69,710.42 172.18,710.65 175.67,710.88 179.17,711.09 182.66,711.29 186.15,711.49 189.65,711.68 193.14,711.86 196.63,712.04 200.13,712.22 203.62,712.40 207.11,712.58 210.61,712.76 214.10,712.94 217.59,713.13 221.08,713.33 224.58,713.53 228.07,713.75 231.56,713.97 235.06,714.21 238.55,714.46 242.04,714.73 245.54,715.02 249.03,715.32 252.52,715.64 256.02,715.98 259.51,716.35 263.00,716.74 266.50,717.16 269.99,717.60 273.48,718.07 276.98,718.57 280.47,719.10 283.96,719.65 287.46,720.23 290.95,720.84 294.44,721.47 297.94,722.13 301.43,722.81 304.92,723.52 308.42,724.25 311.91,725.00 315.40,725.77 318.89,726.57 322.39,727.39 325.88,728.23 329.37,729.09 332.87,729.98 336.36,730.88 339.85,731.80 343.35,732.74 346.84,733.70 350.33,734.67 353.83,735.66 357.32,736.67 360.81,737.70 364.31,738.74 367.80,739.80" fill="none" stroke="#000" stroke-width="2.6" />
<polyline points="163.30,777.40 165.26,777.59 167.22,777.79 169.18,777.99 171.14,778.19 173.10,778.39 175.06,778.60 177.02,778.81 178.97,779.03 180.93,779.25 182.89,779.47 184.85,779.70 186.81,779.94 188.77,780.18 190.73,780.43 192.69,780.69 194.65,780.95 196.61,781.22 198.57,781.50 200.53,781.79 202.49,782.09 204.45,782.39 206.41,782.71 208.36,783.03 210.32,783.37 212.28,783.71 214.24,784.07 216.20,784.44 218.16,784.82 220.12,785.21 222.08,785.62 224.04,786.04 226.00,786.47 227.96,786.91 229.92,787.37 231.88,787.84 233.84,788.33 235.79,788.84 237.75,789.35 239.71,789.89 241.67,790.44 243.63,791.01 245.59,791.59 247.55,792.20 249.51,792.82 251.47,793.45 253.43,794.11 255.39,794.79 257.35,795.48 259.31,796.19 261.27,796.93 263.23,797.68 265.18,798.46 267.14,799.26 269.10,800.07 271.06,800.91 273.02,801.78 274.98,802.66 276.94,803.57 278.90,804.50" fill="none" stroke="#000" stroke-width="2.6" />
<path d="M214.4,837.2v-14.6M214.4,548.2v14.6M312.6,837.2v-14.6M312.6,548.2v14.6M160.6,808.0h14.6M390.6,808.0h-14.6M160.6,750.3h14.6M390.6,750.3h-14.6M160.6,692.6h14.6M390.6,692.6h-14.6M160.6,634.9h14.6M390.6,634.9h-14.6M160.6,577.2h14.6M390.6,577.2h-14.6" stroke="#000" stroke-width="3.2" fill="none"/>
<rect x="160.6" y="548.2" width="230.00000000000003" height="289.0" fill="none" stroke="#000" stroke-width="3.15"/>
<text transform="translate(265.8,305.6) scale(1.0,1)" font-size="25.2" text-anchor="middle" fill="#b40426" >Odd</text>
<text transform="translate(377.9,305.6) scale(1.0,1)" font-size="25.2" text-anchor="middle" fill="#777777" >Even</text>
<text transform="translate(457.0,305.6) scale(1.0,1)" font-size="25.2" text-anchor="middle" fill="#3b4cc0" >Odd</text>
<text transform="translate(171.1,422.6) scale(1.0,1)" font-size="29.2" text-anchor="middle" >6.0</text>
<text transform="translate(274.5,422.6) scale(1.0,1)" font-size="29.2" text-anchor="middle" >6.1</text>
<text transform="translate(377.9,422.6) scale(1.0,1)" font-size="29.2" text-anchor="middle" >6.2</text>
<text transform="translate(481.3,422.6) scale(1.0,1)" font-size="29.2" text-anchor="middle" >6.3</text>
<text transform="translate(584.7,422.6) scale(1.0,1)" font-size="29.2" text-anchor="middle" >6.4</text>
<text transform="translate(106.6,54.5) scale(1.0,1)" font-size="29.2" text-anchor="end" >−10</text>
<text transform="translate(106.6,116.6) scale(1.0,1)" font-size="29.2" text-anchor="end" >−20</text>
<text transform="translate(106.6,178.8) scale(1.0,1)" font-size="29.2" text-anchor="end" >−30</text>
<text transform="translate(106.6,240.9) scale(1.0,1)" font-size="29.2" text-anchor="end" >−40</text>
<text transform="translate(106.6,303.1) scale(1.0,1)" font-size="29.2" text-anchor="end" >−50</text>
<text transform="translate(106.6,365.2) scale(1.0,1)" font-size="29.2" text-anchor="end" >−60</text>
<text transform="translate(685.6,349.8) scale(1.0,1)" font-size="29.2" text-anchor="start" >40</text>
<text transform="translate(685.6,290.5) scale(1.0,1)" font-size="29.2" text-anchor="start" >60</text>
<text transform="translate(685.6,231.2) scale(1.0,1)" font-size="29.2" text-anchor="start" >80</text>
<text transform="translate(685.6,171.9) scale(1.0,1)" font-size="29.2" text-anchor="start" >100</text>
<text transform="translate(685.6,112.6) scale(1.0,1)" font-size="29.2" text-anchor="start" >120</text>
<text transform="translate(685.6,53.3) scale(1.0,1)" font-size="29.2" text-anchor="start" >140</text>
<text transform="translate(378.6,465.2) scale(1.0,1)" font-size="29.2" text-anchor="middle" >Frequency [GHz]</text>
<text transform="translate(776.0,201.0) rotate(-90) scale(0.995,1)" font-size="29.2" text-anchor="middle">Temperature [mK]</text>
<path d="M0,250.6H28.8M0,202.9H28.8" stroke="#000" stroke-width="1.5" fill="none"/>
<text transform="translate(27.5,247.0) rotate(-90) scale(1.0,1)" font-size="29.2" text-anchor="start">S</text>
<text transform="translate(35.3,229.0) rotate(-90) scale(1.0,1)" font-size="20" text-anchor="start">21</text>
<text transform="translate(27.5,193.0) rotate(-90) scale(1.0,1)" font-size="29.2" text-anchor="start">[dB]</text>
<text x="-1.3" y="22.6" font-size="42.6" font-weight="bold">a</text>
<text x="-3.2" y="535.2" font-size="42.6" font-weight="bold">b</text>
<text transform="translate(221.5,1342.0) scale(1.0,1)" font-size="29.2" text-anchor="middle" >40</text>
<text transform="translate(326.9,1342.0) scale(1.0,1)" font-size="29.2" text-anchor="middle" >60</text>
<text transform="translate(432.3,1342.0) scale(1.0,1)" font-size="29.2" text-anchor="middle" >80</text>
<text transform="translate(537.7,1342.0) scale(1.0,1)" font-size="29.2" text-anchor="middle" >100</text>
<text transform="translate(643.1,1342.0) scale(1.0,1)" font-size="29.2" text-anchor="middle" >120</text>
<text transform="translate(748.5,1342.0) scale(1.0,1)" font-size="29.2" text-anchor="middle" >140</text>
<text transform="translate(114.0,1317.0) scale(1.0,1)" font-size="29.2" text-anchor="end" >0.50</text>
<text transform="translate(114.0,1228.4) scale(1.0,1)" font-size="29.2" text-anchor="end" >0.75</text>
<text transform="translate(114.0,1139.8) scale(1.0,1)" font-size="29.2" text-anchor="end" >1.00</text>
<text transform="translate(114.0,1051.2) scale(1.0,1)" font-size="29.2" text-anchor="end" >1.25</text>
<text transform="translate(114.0,962.5) scale(1.0,1)" font-size="29.2" text-anchor="end" >1.50</text>
<text transform="translate(114.0,873.9) scale(1.0,1)" font-size="29.2" text-anchor="end" >1.75</text>
<text transform="translate(114.0,785.3) scale(1.0,1)" font-size="29.2" text-anchor="end" >2.00</text>
<text transform="translate(114.0,696.7) scale(1.0,1)" font-size="29.2" text-anchor="end" >2.25</text>
<text transform="translate(114.0,608.1) scale(1.0,1)" font-size="29.2" text-anchor="end" >2.50</text>
<text transform="translate(436.7,1384.7) scale(0.985,1)" font-size="29.2" text-anchor="middle" >Temperature [mK]</text>
<path d="M10.1,959.4L23.5,966.2L36.9,959.4M10.1,924.0L23.5,917.2L36.9,924.0" stroke="#000" stroke-width="1.7" fill="none" stroke-linejoin="miter"/>
<ellipse cx="25.9" cy="948.1" rx="5.6" ry="6.4" fill="none" stroke="#000" stroke-width="2.0" transform="rotate(-12 25.9 948.1)"/>
<path d="M10.3,944.7L37.4,950.4" stroke="#000" stroke-width="1.9" fill="none"/>
<text transform="translate(19.4,938.6) rotate(-90) scale(1.0,1)" font-size="20.5" text-anchor="start">2</text>
<text transform="translate(40.1,938.6) rotate(-90) scale(1.0,1)" font-size="20.5" text-anchor="start">J</text>
<text transform="translate(31.1,908.4) rotate(-90) scale(1.0,1)" font-size="29.2" text-anchor="start">(</text>
<text transform="translate(31.1,896.6) rotate(-90)" font-size="29.2" font-style="italic">T</text>
<text transform="translate(31.1,876.2) rotate(-90) scale(1.0,1)" font-size="29.2" text-anchor="start">)</text>
<text transform="translate(214.8,865.7) scale(1.0,1)" font-size="23.4" text-anchor="middle" >50</text>
<text transform="translate(313.0,865.7) scale(1.0,1)" font-size="23.4" text-anchor="middle" >100</text>
<text transform="translate(402.8,816.4) scale(1.0,1)" font-size="23.4" text-anchor="start" >6</text>
<text transform="translate(402.8,758.7) scale(1.0,1)" font-size="23.4" text-anchor="start" >8</text>
<text transform="translate(402.8,701.0) scale(1.0,1)" font-size="23.4" text-anchor="start" >10</text>
<text transform="translate(402.8,643.3) scale(1.0,1)" font-size="23.4" text-anchor="start" >12</text>
<text transform="translate(402.8,585.6) scale(1.0,1)" font-size="23.4" text-anchor="start" >14</text>
<text transform="translate(466.5,752.6) rotate(-90)" font-size="23.4" font-style="italic">f</text>
<text transform="translate(462.6,742.0) rotate(-90) scale(1.0,1)" font-size="17.5" text-anchor="start">*</text>
<text transform="translate(475,741.0) rotate(-90)" font-size="16.4"><tspan font-style="italic">J</tspan>,exp</text>
<text transform="translate(466.8,696.3) rotate(-90) scale(1.0,1)" font-size="25.3" text-anchor="start">[GHz]</text>
</svg>
</body></html>
